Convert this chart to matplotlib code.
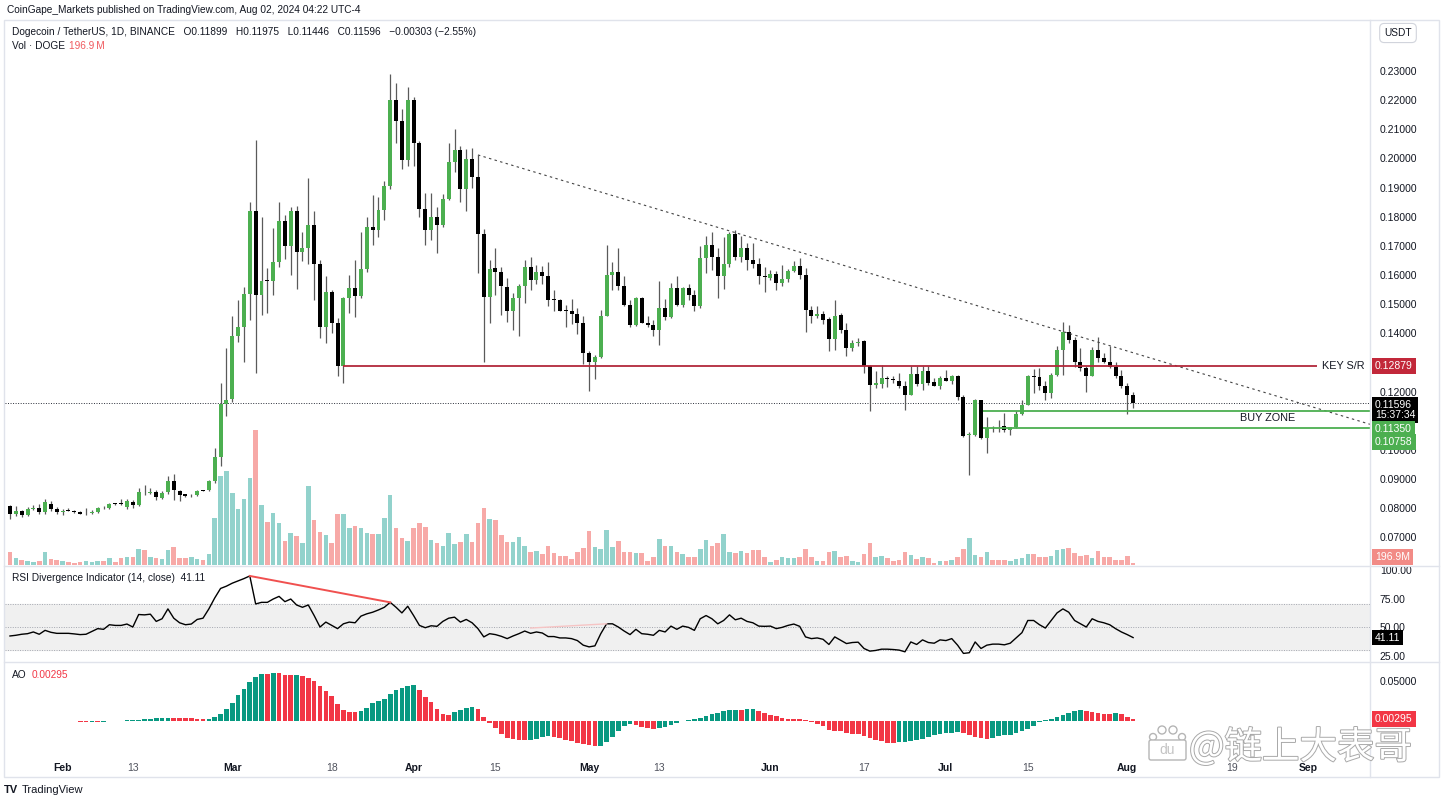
import numpy as np
import pandas as pd
import matplotlib
matplotlib.use('Agg')
import matplotlib.pyplot as plt
import matplotlib.dates as mdates
import matplotlib.patheffects as pe
from matplotlib.ticker import FuncFormatter
from matplotlib.patches import Rectangle, Circle, FancyBboxPatch
from matplotlib.transforms import IdentityTransform

plt.rcParams['font.family'] = ['Liberation Sans', 'DejaVu Sans']

# daily DOGE/USDT candles, first bar 2024-01-23, last 2024-08-02
START = '2024-01-23'

opens = [
    0.0806, 0.0781, 0.0792, 0.0777, 0.0797, 0.0800, 0.0786, 0.0813, 0.0797, 0.0788,
    0.0792, 0.0792, 0.0788, 0.0782, 0.0785, 0.0786, 0.0801, 0.0800, 0.0815, 0.0817,
    0.0803, 0.0821, 0.0810, 0.0855, 0.0853, 0.0857, 0.0835, 0.0854, 0.0892, 0.0860,
    0.0848, 0.0844, 0.0846, 0.0861, 0.0861, 0.0892, 0.0975, 0.1158, 0.1174, 0.1391,
    0.1421, 0.1535, 0.1820, 0.1532, 0.1582, 0.1578, 0.1646, 0.1787, 0.1701, 0.1818,
    0.1680, 0.1692, 0.1772, 0.1637, 0.1423, 0.1543, 0.1435, 0.1288, 0.1520, 0.1555,
    0.1529, 0.1620, 0.1766, 0.1753, 0.1823, 0.1906, 0.2201, 0.2130, 0.1993, 0.2201,
    0.2052, 0.1826, 0.1753, 0.1800, 0.1772, 0.1860, 0.1989, 0.2029, 0.1894, 0.1997,
    0.1937, 0.1741, 0.1526, 0.1623, 0.1612, 0.1558, 0.1475, 0.1520, 0.1561, 0.1627,
    0.1583, 0.1612, 0.1597, 0.1517, 0.1515, 0.1481, 0.1478, 0.1467, 0.1435, 0.1334,
    0.1303, 0.1318, 0.1460, 0.1600, 0.1609, 0.1563, 0.1498, 0.1429, 0.1520, 0.1437,
    0.1429, 0.1412, 0.1486, 0.1455, 0.1555, 0.1498, 0.1555, 0.1532, 0.1492, 0.1658,
    0.1703, 0.1663, 0.1595, 0.1638, 0.1741, 0.1661, 0.1692, 0.1652, 0.1638, 0.1595,
    0.1589, 0.1603, 0.1572, 0.1586, 0.1615, 0.1632, 0.1601, 0.1480, 0.1458, 0.1467,
    0.1449, 0.1380, 0.1463, 0.1410, 0.1349, 0.1366, 0.1372, 0.1288, 0.1223, 0.1227,
    0.1244, 0.1244, 0.1238, 0.1220, 0.1189, 0.1261, 0.1227, 0.1269, 0.1234, 0.1220,
    0.1246, 0.1235, 0.1254, 0.1183, 0.1051, 0.1051, 0.1170, 0.1040, 0.1078, 0.1078,
    0.1083, 0.1067, 0.1078, 0.1124, 0.1155, 0.1252, 0.1250, 0.1218, 0.1195, 0.1258,
    0.1343, 0.1403, 0.1378, 0.1303, 0.1280, 0.1254, 0.1343, 0.1315, 0.1303, 0.1286,
    0.1254, 0.1220, 0.11899,
]
highs = [
    0.0812, 0.0806, 0.0795, 0.0803, 0.0812, 0.0815, 0.0831, 0.0823, 0.0803, 0.0797,
    0.0800, 0.0795, 0.0792, 0.0800, 0.0795, 0.0803, 0.0806, 0.0817, 0.0817, 0.0831,
    0.0831, 0.0829, 0.0869, 0.0880, 0.0869, 0.0863, 0.0858, 0.0909, 0.0917, 0.0863,
    0.0849, 0.0849, 0.0863, 0.0863, 0.0895, 0.1006, 0.1231, 0.1349, 0.1458, 0.1515,
    0.1560, 0.1852, 0.2063, 0.1800, 0.1623, 0.1760, 0.1852, 0.1806, 0.1835, 0.1837,
    0.1746, 0.1932, 0.1818, 0.1650, 0.1595, 0.1549, 0.1452, 0.1524, 0.1600, 0.1652,
    0.1749, 0.1800, 0.1875, 0.1869, 0.1921, 0.2290, 0.2258, 0.2169, 0.2246, 0.2210,
    0.2060, 0.1880, 0.1883, 0.1835, 0.1878, 0.2054, 0.2100, 0.2041, 0.2031, 0.2035,
    0.2012, 0.1757, 0.1652, 0.1692, 0.1627, 0.1589, 0.1538, 0.1570, 0.1652, 0.1661,
    0.1635, 0.1632, 0.1646, 0.1547, 0.1517, 0.1498, 0.1517, 0.1486, 0.1460, 0.1338,
    0.1326, 0.1480, 0.1703, 0.1646, 0.1692, 0.1597, 0.1515, 0.1524, 0.1524, 0.1460,
    0.1444, 0.1578, 0.1517, 0.1572, 0.1595, 0.1558, 0.1570, 0.1549, 0.1698, 0.1734,
    0.1746, 0.1692, 0.1732, 0.1746, 0.1753, 0.1734, 0.1709, 0.1709, 0.1658, 0.1627,
    0.1618, 0.1615, 0.1635, 0.1620, 0.1649, 0.1658, 0.1623, 0.1492, 0.1492, 0.1478,
    0.1455, 0.1513, 0.1469, 0.1435, 0.1378, 0.1383, 0.1378, 0.1290, 0.1269, 0.1292,
    0.1252, 0.1252, 0.1263, 0.1235, 0.1288, 0.1288, 0.1288, 0.1288, 0.1246, 0.1254,
    0.1275, 0.1258, 0.1258, 0.1189, 0.1060, 0.1174, 0.1172, 0.1113, 0.1083, 0.1103,
    0.1126, 0.1078, 0.1132, 0.1170, 0.1258, 0.1277, 0.1280, 0.1235, 0.1263, 0.1357,
    0.1440, 0.1429, 0.1387, 0.1349, 0.1288, 0.1352, 0.1389, 0.1332, 0.1355, 0.1303,
    0.1275, 0.1231, 0.11975,
]
lows = [
    0.0763, 0.0774, 0.0771, 0.0774, 0.0795, 0.0781, 0.0781, 0.0792, 0.0781, 0.0777,
    0.0789, 0.0783, 0.0780, 0.0777, 0.0781, 0.0783, 0.0797, 0.0797, 0.0811, 0.0811,
    0.0797, 0.0800, 0.0806, 0.0846, 0.0849, 0.0827, 0.0831, 0.0849, 0.0829, 0.0823,
    0.0838, 0.0838, 0.0843, 0.0858, 0.0858, 0.0888, 0.0943, 0.1115, 0.1166, 0.1370,
    0.1300, 0.1446, 0.1263, 0.1463, 0.1469, 0.1532, 0.1629, 0.1655, 0.1600, 0.1551,
    0.1649, 0.1639, 0.1515, 0.1383, 0.1366, 0.1400, 0.1254, 0.1229, 0.1469, 0.1455,
    0.1520, 0.1612, 0.1703, 0.1732, 0.1789, 0.1894, 0.2052, 0.1963, 0.1974, 0.1974,
    0.1800, 0.1703, 0.1720, 0.1675, 0.1766, 0.1858, 0.1955, 0.1852, 0.1818, 0.1898,
    0.1606, 0.1303, 0.1437, 0.1532, 0.1463, 0.1440, 0.1410, 0.1391, 0.1503, 0.1549,
    0.1570, 0.1570, 0.1494, 0.1478, 0.1475, 0.1423, 0.1432, 0.1398, 0.1295, 0.1203,
    0.1243, 0.1315, 0.1458, 0.1549, 0.1549, 0.1494, 0.1423, 0.1426, 0.1435, 0.1423,
    0.1391, 0.1361, 0.1446, 0.1452, 0.1492, 0.1490, 0.1515, 0.1478, 0.1486, 0.1606,
    0.1618, 0.1520, 0.1551, 0.1629, 0.1652, 0.1646, 0.1618, 0.1623, 0.1570, 0.1543,
    0.1584, 0.1547, 0.1561, 0.1575, 0.1612, 0.1586, 0.1403, 0.1435, 0.1452, 0.1432,
    0.1338, 0.1343, 0.1400, 0.1321, 0.1338, 0.1357, 0.1263, 0.1132, 0.1212, 0.1212,
    0.1215, 0.1229, 0.1212, 0.1138, 0.1189, 0.1218, 0.1206, 0.1223, 0.1218, 0.1208,
    0.1235, 0.1227, 0.1170, 0.1045, 0.0915, 0.1048, 0.1038, 0.0989, 0.1063, 0.1063,
    0.1063, 0.1052, 0.1075, 0.1120, 0.1155, 0.1195, 0.1206, 0.1172, 0.1178, 0.1254,
    0.1258, 0.1366, 0.1286, 0.1269, 0.1200, 0.1252, 0.1303, 0.1298, 0.1280, 0.1246,
    0.1212, 0.1124, 0.11446,
]
closes = [
    0.0781, 0.0792, 0.0777, 0.0797, 0.0800, 0.0786, 0.0820, 0.0797, 0.0788, 0.0790,
    0.0790, 0.0786, 0.0781, 0.0785, 0.0788, 0.0799, 0.0799, 0.0814, 0.0814, 0.0815,
    0.0823, 0.0812, 0.0854, 0.0854, 0.0855, 0.0838, 0.0852, 0.0892, 0.0861, 0.0846,
    0.0843, 0.0845, 0.0860, 0.0860, 0.0892, 0.0975, 0.1158, 0.1172, 0.1391, 0.1421,
    0.1535, 0.1820, 0.1532, 0.1578, 0.1578, 0.1646, 0.1787, 0.1701, 0.1818, 0.1680,
    0.1692, 0.1772, 0.1637, 0.1423, 0.1543, 0.1435, 0.1288, 0.1520, 0.1555, 0.1529,
    0.1620, 0.1766, 0.1753, 0.1823, 0.1906, 0.2201, 0.2130, 0.1993, 0.2201, 0.2052,
    0.1826, 0.1753, 0.1800, 0.1772, 0.1860, 0.1989, 0.2029, 0.1894, 0.1997, 0.1937,
    0.1741, 0.1526, 0.1620, 0.1612, 0.1561, 0.1475, 0.1520, 0.1561, 0.1627, 0.1583,
    0.1612, 0.1597, 0.1513, 0.1515, 0.1478, 0.1478, 0.1467, 0.1435, 0.1334, 0.1303,
    0.1318, 0.1460, 0.1600, 0.1609, 0.1563, 0.1498, 0.1429, 0.1520, 0.1437, 0.1429,
    0.1412, 0.1486, 0.1455, 0.1555, 0.1498, 0.1555, 0.1532, 0.1492, 0.1658, 0.1703,
    0.1663, 0.1595, 0.1638, 0.1741, 0.1661, 0.1692, 0.1650, 0.1638, 0.1595, 0.1593,
    0.1603, 0.1572, 0.1586, 0.1615, 0.1632, 0.1601, 0.1480, 0.1458, 0.1467, 0.1446,
    0.1380, 0.1460, 0.1410, 0.1349, 0.1366, 0.1369, 0.1288, 0.1223, 0.1229, 0.1246,
    0.1243, 0.1240, 0.1220, 0.1189, 0.1261, 0.1227, 0.1269, 0.1229, 0.1220, 0.1246,
    0.1235, 0.1254, 0.1183, 0.1048, 0.1052, 0.1170, 0.1040, 0.1075, 0.1077, 0.1077,
    0.1067, 0.1078, 0.1124, 0.1155, 0.1252, 0.1250, 0.1218, 0.1195, 0.1258, 0.1343,
    0.1403, 0.1378, 0.1303, 0.1280, 0.1254, 0.1343, 0.1315, 0.1303, 0.1286, 0.1254,
    0.1220, 0.11899, 0.11596,
]
# volume in millions of DOGE
volume_m = [
    1600, 800, 600, 520, 400, 520, 1600, 720, 600, 520,
    400, 240, 320, 520, 400, 520, 520, 800, 400, 800,
    920, 920, 1920, 1800, 1000, 800, 680, 1800, 2200, 880,
    800, 920, 720, 600, 1360, 5680, 10680, 11280, 8600, 6680,
    7880, 10480, 16200, 7200, 5200, 6200, 5000, 2880, 3880, 3480,
    2600, 9520, 5400, 4000, 3600, 2680, 6080, 6120, 4400, 4680,
    4400, 3880, 3680, 3680, 5600, 8400, 4480, 3200, 2920, 4400,
    5080, 4600, 3000, 2600, 2320, 3880, 2480, 2800, 3680, 2800,
    5000, 6880, 5520, 5400, 3600, 2800, 2800, 3400, 2320, 1600,
    1680, 1280, 2320, 1480, 1120, 1080, 720, 1520, 2000, 4080,
    2200, 1920, 4200, 2200, 2880, 1600, 1600, 1480, 1480, 520,
    920, 3120, 2320, 2320, 1600, 1320, 920, 920, 1920, 3000,
    2320, 2680, 3720, 1600, 1480, 1720, 1480, 1800, 1800, 920,
    400, 600, 1000, 800, 800, 920, 1880, 920, 520, 520,
    1600, 1680, 1000, 1120, 520, 400, 1320, 2600, 1000, 1080,
    800, 520, 600, 1600, 1200, 720, 920, 800, 200, 520,
    520, 600, 920, 1920, 3280, 1200, 920, 1600, 600, 600,
    600, 520, 680, 800, 1280, 1280, 1000, 920, 1120, 1800,
    1920, 2080, 1400, 1080, 1200, 800, 1680, 920, 920, 600,
    600, 1120, 196.9,
]
# RSI(14)
rsi_vals = [
    42.5, 43.1, 44.0, 44.5, 46.0, 44.0, 47.4, 45.7, 44.8, 44.8,
    44.8, 44.3, 43.7, 44.0, 46.5, 48.9, 48.3, 52.3, 51.7, 51.7,
    52.9, 50.3, 61.2, 60.9, 61.5, 55.2, 57.5, 66.1, 58.0, 54.0,
    52.3, 52.9, 56.9, 58.0, 66.1, 75.6, 83.9, 85.9, 88.5, 90.5,
    92.5, 94.8, 70.4, 71.8, 71.8, 74.7, 77.0, 72.4, 74.7, 69.5,
    67.5, 69.5, 60.3, 50.3, 54.6, 51.7, 48.9, 53.1, 54.6, 54.0,
    59.8, 61.8, 63.2, 65.2, 67.5, 71.8, 67.5, 62.6, 68.4, 60.3,
    51.7, 49.7, 51.4, 50.9, 55.2, 58.0, 58.9, 54.6, 56.9, 54.0,
    48.9, 41.7, 44.5, 43.7, 42.2, 40.2, 42.5, 44.5, 46.8, 44.8,
    46.0, 45.1, 42.0, 42.0, 40.8, 40.8, 40.2, 38.5, 34.5, 33.0,
    33.9, 44.5, 53.1, 53.1, 50.3, 46.8, 43.7, 48.3, 44.5, 44.0,
    43.1, 47.4, 46.0, 51.1, 48.3, 51.1, 50.0, 47.4, 57.5, 60.3,
    57.5, 53.1, 56.0, 60.9, 56.6, 58.0, 55.2, 54.0, 51.1, 50.9,
    51.1, 48.9, 50.0, 51.7, 52.9, 50.9, 41.7, 40.2, 40.8, 39.6,
    35.1, 41.7, 38.8, 35.9, 36.8, 37.1, 31.6, 29.3, 29.9, 31.0,
    31.0, 30.7, 30.2, 28.7, 37.3, 35.1, 39.1, 36.8, 36.2, 39.1,
    38.5, 40.2, 34.5, 27.3, 27.9, 37.3, 31.6, 34.5, 35.4, 35.4,
    34.8, 36.2, 40.8, 45.4, 56.0, 56.0, 52.3, 49.4, 56.0, 62.6,
    66.1, 63.2, 56.0, 53.1, 50.3, 57.5, 55.2, 54.0, 52.3, 48.9,
    46.0, 43.7, 41.11,
]

# drawings on the chart
trend_dates = ['2024-04-12', '2024-07-21']
trend_prices = [0.2012, 0.1406]
key_sr = 0.12879
key_sr_start = '2024-03-20'
key_sr_end = '2024-09-02 10:00'
buy_zone = [0.11350, 0.10758]
buy_zone_start = '2024-07-07 07:00'
last_price = 0.11596
rsi_div_dates = [['2024-03-04', '2024-03-28'], ['2024-04-21', '2024-05-04']]
rsi_div_vals = [[94.8, 71.8], [49.4, 53.1]]
ao_last = 0.00295
# right-axis prices that stay visible (0.13 and 0.11 sit under the price boxes)
price_ticks = [0.07, 0.08, 0.09, 0.10, 0.12, 0.14, 0.15, 0.16, 0.17, 0.18, 0.19,
               0.20, 0.21, 0.22, 0.23]

tick_dates = ['2024-02-01', '2024-02-13', '2024-03-01', '2024-03-18', '2024-04-01',
              '2024-04-15', '2024-05-01', '2024-05-13', '2024-06-01', '2024-06-17',
              '2024-07-01', '2024-07-15', '2024-08-01', '2024-08-19', '2024-09-01']
tick_labels = ['Feb', '13', 'Mar', '18', 'Apr', '15', 'May', '13', 'Jun', '17',
               'Jul', '15', 'Aug', '19', 'Sep']

W, H = 1443, 800
GREEN = '#4caf50'
TEXT = '#131722'


def fx(px):
    return px / W


def fy(py):
    return 1 - py / H


o = np.array(opens)
hi = np.array(highs)
lo = np.array(lows)
c = np.array(closes)
vol = np.array(volume_m)
n = len(c)
x = mdates.date2num(pd.date_range(START, periods=n, freq='D'))
up = c >= o

# awesome oscillator from median price
med = pd.Series((hi + lo) / 2)
ao = (med.rolling(5, min_periods=1).mean() - med.rolling(34, min_periods=1).mean()).values
ao_up = np.r_[True, np.diff(ao) >= 0]

fig = plt.figure(figsize=(W / 100, H / 100), dpi=100)
left, width = fx(5), fx(1365)
ax = fig.add_axes([left, fy(565), width, 545 / H])
ax_rsi = fig.add_axes([left, fy(661), width, 94 / H], sharex=ax)
ax_ao = fig.add_axes([left, fy(752), width, 89 / H], sharex=ax)
ax_vol = ax.twinx()
ax_vol.set_zorder(0)
ax.set_zorder(1)
ax.patch.set_visible(False)

x_left = x[0] - 0.85
x_right = x[0] + 232.5

# volume
ax_vol.bar(x, vol, width=0.78, color=np.where(up, '#92d2cc', '#f7a9a7'), linewidth=0)
ax_vol.set_ylim(0, vol.max() * 545 / 135)
ax_vol.set_yticks([])

# candles
body_lo = np.minimum(o, c)
body_h = np.maximum(np.abs(c - o), 0.00028)
ax.vlines(x, lo, hi, color='#5a5a5a', linewidth=0.9, zorder=2)
ax.bar(x, body_h, bottom=body_lo, width=0.68, color=np.where(up, GREEN, '#000000'),
       linewidth=0, zorder=3)

# trend line extended to the right edge
tx = mdates.date2num(pd.to_datetime(trend_dates))
slope = (trend_prices[1] - trend_prices[0]) / (tx[1] - tx[0])
ax.plot([tx[0], x_right], [trend_prices[0], trend_prices[0] + slope * (x_right - tx[0])],
        color='#444444', linewidth=0.8, linestyle=(0, (2.2, 3)), zorder=4)

ax.hlines(key_sr, mdates.datestr2num(key_sr_start), mdates.datestr2num(key_sr_end),
          color='#b2283a', linewidth=1.3, zorder=4)
ax.text(mdates.datestr2num(key_sr_end) + 0.9, key_sr, 'KEY S/R', fontsize=7.8,
        color=TEXT, va='center', ha='left', zorder=5)
for lvl in buy_zone:
    ax.hlines(lvl, mdates.datestr2num(buy_zone_start), x_right, color=GREEN,
              linewidth=1.3, zorder=4)
ax.text(x[0] + 215, (buy_zone[0] + buy_zone[1]) / 2 + 0.0003, 'BUY ZONE', fontsize=7.8,
        color=TEXT, va='center', ha='center', zorder=5)
ax.axhline(last_price, color='#2a2e39', linewidth=0.7, linestyle=(0, (1, 1.6)), zorder=1)

ax.set_xlim(x_left, x_right)
ax.set_ylim(0.0605, 0.2475)
ax.yaxis.tick_right()
ax.set_yticks(price_ticks)
ax.yaxis.set_major_formatter(FuncFormatter(lambda v, p: f'{v:.5f}'))

# RSI pane
ax_rsi.axhspan(30, 70, color='#f0f0f0', zorder=0)
for lvl in (70, 50, 30):
    ax_rsi.axhline(lvl, color='#a3a6af', linewidth=0.7, linestyle=(0, (1, 1.5)), zorder=1)
ax_rsi.plot(x, rsi_vals, color='#000000', linewidth=1.0, zorder=3)
for dd, vv, col, lw in zip(rsi_div_dates, rsi_div_vals, ['#f0504f', '#f6c4c4'], [1.4, 1.0]):
    ax_rsi.plot(mdates.date2num(pd.to_datetime(dd)), vv, color=col, linewidth=lw, zorder=4)
ax_rsi.set_ylim(20.7, 102.6)
ax_rsi.yaxis.tick_right()
ax_rsi.set_yticks([25, 50, 75, 100])
ax_rsi.yaxis.set_major_formatter(FuncFormatter(lambda v, p: f'{v:.2f}'))

# AO pane
ax_ao.bar(x, ao, width=0.8, color=np.where(ao_up, '#089981', '#f23645'), linewidth=0)
ax_ao.set_ylim(-0.038, 0.0725)
ax_ao.yaxis.tick_right()
ax_ao.set_yticks([0.05])
ax_ao.yaxis.set_major_formatter(FuncFormatter(lambda v, p: f'{v:.5f}'))

for a in (ax, ax_rsi, ax_ao, ax_vol):
    for s in a.spines.values():
        s.set_visible(False)
for a in (ax, ax_rsi, ax_ao):
    a.tick_params(axis='y', length=0, pad=7, labelsize=7.5, labelcolor=TEXT)
for a in (ax, ax_rsi):
    a.tick_params(axis='x', bottom=False, labelbottom=False)

ax_ao.set_xticks(mdates.date2num(pd.to_datetime(tick_dates)))
ax_ao.set_xticklabels(tick_labels)
ax_ao.tick_params(axis='x', length=0, pad=8, labelsize=7.5)
for lab in ax_ao.get_xticklabels():
    if lab.get_text().isalpha():
        lab.set_fontweight('bold')
        lab.set_color(TEXT)
    else:
        lab.set_color('#50535e')
ax_ao.set_xlim(x_left, x_right)


def price_box(a, y, text, fc, dy=0, tc='white', xycoords=None):
    a.annotate(text, xy=(1.0, y), xycoords=xycoords or ('axes fraction', 'data'),
               xytext=(5, dy), textcoords='offset pixels', ha='left', va='center',
               fontsize=7.5, color=tc, annotation_clip=False, zorder=10,
               bbox=dict(boxstyle='square,pad=0.28', fc=fc, ec='none'))


price_box(ax, key_sr, f'{key_sr:.5f}', '#c2283a')
ax.annotate(f'{last_price:.5f}\n15:37:34', xy=(1.0, last_price),
            xycoords=('axes fraction', 'data'), xytext=(5, -6.5), textcoords='offset pixels',
            ha='left', va='center', fontsize=7.5, color='white', linespacing=1.05,
            annotation_clip=False, zorder=10,
            bbox=dict(boxstyle='square,pad=0.28', fc='#000000', ec='none'))
price_box(ax, buy_zone[0], f'{buy_zone[0]:.5f}', GREEN, dy=-18)
price_box(ax, buy_zone[1], f'{buy_zone[1]:.5f}', GREEN, dy=-14.5)
price_box(ax, 0.0147, f'{vol[-1]:.1f}M', '#f28b86', xycoords='axes fraction')
price_box(ax_rsi, rsi_vals[-1], f'{rsi_vals[-1]:.2f}', '#000000')
price_box(ax_ao, ao_last, f'{ao_last:.5f}', '#f23645')

# frame and pane separators
sep = '#e0e3eb'
fig.add_artist(Rectangle((fx(4), fy(777)), fx(1435), 757 / H, transform=fig.transFigure,
                         fill=False, edgecolor=sep, linewidth=1))
for yy in (566, 662):
    fig.add_artist(plt.Line2D([fx(4), fx(1439)], [fy(yy), fy(yy)], color=sep, linewidth=1))
fig.add_artist(plt.Line2D([fx(1370), fx(1370)], [fy(20), fy(777)], color=sep, linewidth=1))

# header texts
fig.text(fx(7), fy(10), 'CoinGape_Markets published on TradingView.com, Aug 02, 2024 04:22 UTC-4',
         fontsize=7.3, color=TEXT, va='center')
fig.text(fx(12), fy(32), 'Dogecoin / TetherUS, 1D, BINANCE   O0.11899   H0.11975   L0.11446   '
         'C0.11596   \u22120.00303 (\u22122.55%)', fontsize=7.3, color=TEXT, va='center')
fig.text(fx(12), fy(46), 'Vol \u00b7 DOGE', fontsize=7.3, color=TEXT, va='center')
fig.text(fx(69), fy(46), f'{vol[-1]:.1f}\u2009M', fontsize=7.3, color='#f05a5f', va='center')
fig.text(fx(12), fy(578), f'RSI Divergence Indicator (14, close)  {rsi_vals[-1]:.2f}',
         fontsize=7.3, color=TEXT, va='center')
fig.text(fx(12), fy(675), 'AO', fontsize=7.3, color=TEXT, va='center')
fig.text(fx(32), fy(675), f'{ao_last:.5f}', fontsize=7.3, color='#f23645', va='center')
fig.text(fx(1398), fy(33), 'USDT', fontsize=7.3, color=TEXT, va='center', ha='center',
         bbox=dict(boxstyle='round,pad=0.45', fc='white', ec='#d1d4dc', lw=0.8))

# footer
fig.text(fx(4), fy(790), 'TV', fontsize=8, fontweight='bold', color=TEXT, va='center')
fig.text(fx(22), fy(790), 'TradingView', fontsize=8, color=TEXT, va='center')

# watermark
halo = [pe.withStroke(linewidth=1.4, foreground='#a9a9a9')]
for cx, cy, r in [(1153, 737, 3.5), (1162, 730, 4), (1173, 730, 4), (1182, 737, 3.5)]:
    fig.add_artist(Circle((cx, H - cy), r, transform=IdentityTransform(), fc='white',
                          ec='#b5b5b5', lw=1, zorder=20))
fig.add_artist(FancyBboxPatch((1151, H - 758), 33, 16, boxstyle='round,pad=2',
                              transform=IdentityTransform(), fc='white', ec='#b5b5b5',
                              lw=1, zorder=20))
fig.text(fx(1167.5), fy(750), 'du', fontsize=10, color='#c4c4c4', ha='center', va='center',
         zorder=21)
fig.text(fx(1189), fy(748), '@链上大表哥', fontsize=27, color='white', va='center',
         family=['Noto Sans CJK SC', 'DejaVu Sans'], path_effects=halo, zorder=21)

fig.savefig('out.png', dpi=100)
